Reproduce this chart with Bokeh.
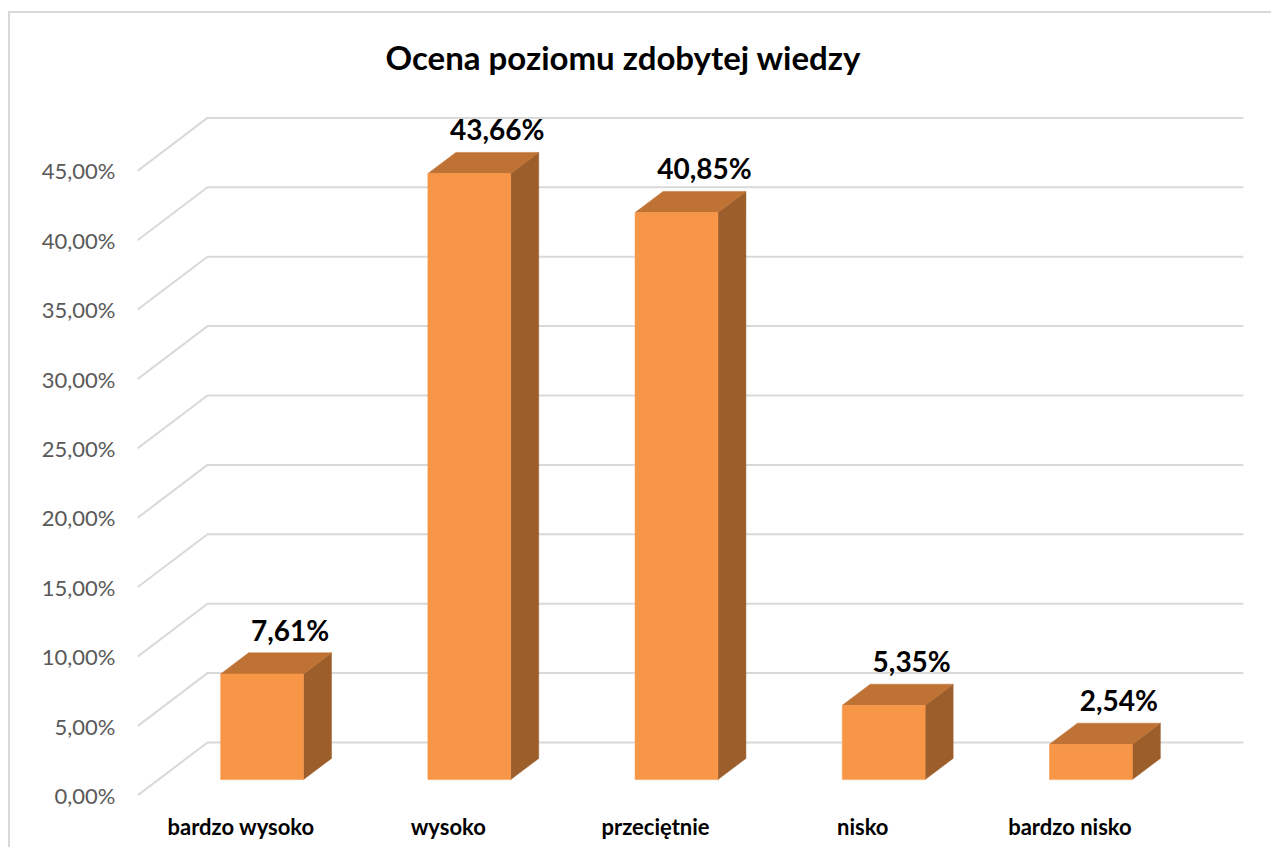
from bokeh.plotting import figure
from bokeh.models import Range1d, FixedTicker, ColumnDataSource, LinearAxis
from bokeh.core.properties import value
from bokeh.embed import file_html
from bokeh.resources import INLINE

# ---------------- data ----------------
categories = ["bardzo wysoko", "wysoko", "przeciętnie", "nisko", "bardzo nisko"]
percentages = [7.61, 43.66, 40.85, 5.35, 2.54]
value_labels = ["7,61%", "43,66%", "40,85%", "5,35%", "2,54%"]
y_ticks = [0, 5, 10, 15, 20, 25, 30, 35, 40, 45]
y_tick_labels = ["0,00%", "5,00%", "10,00%", "15,00%", "20,00%",
                 "25,00%", "30,00%", "35,00%", "40,00%", "45,00%"]
title_text = "Ocena poziomu zdobytej wiedzy"

# ---------------- layout / style constants ----------------
FONT = "Lato"
SLOT_PX = 207.3          # pixels per category slot
PCT_PX = 13.88           # pixels per percent
DEPTH_X_PX = 70          # oblique depth of the 3D box (x)
DEPTH_Y_PX = 53          # oblique depth of the 3D box (y)
DX = DEPTH_X_PX / SLOT_PX
DY = DEPTH_Y_PX / PCT_PX
BAR_W = 0.4
D0, D1 = 0.3, 0.7        # bar depth span (fraction of full depth)

FRONT_C = "#F79646"
TOP_C = "#BE7234"
SIDE_C = "#9C5E2B"
GRID_C = "#D9D9D9"

W, H = 1263, 836
ML, MR, MT, MB = 127, 30, 82, 54
frame_h = H - MT - MB
n = len(categories)

p = figure(width=W, height=H, output_backend="svg", toolbar_location=None,
           x_range=Range1d(0, n + DX), y_range=Range1d(0, frame_h / PCT_PX),
           min_border_left=ML, min_border_right=MR, min_border_top=MT,
           min_border_bottom=MB, x_axis_type=None, y_axis_type=None)
p.styles = {"border-left": "2px solid #D9D9D9", "border-top": "2px solid #D9D9D9",
            "margin-left": "8px", "margin-top": "11px"}
p.outline_line_color = None
p.background_fill_color = "white"
p.border_fill_color = "white"

# title
p.title.text = title_text
p.title.align = "left"
p.title.offset = 248
p.title.standoff = 37
p.title.text_font = FONT
p.title.text_font_size = "33px"
p.title.text_font_style = "bold"
p.title.text_color = "#000000"

# ---------------- gridlines (3D walls) ----------------
gx, gy = [], []
for t in y_ticks:
    gx.append([0, DX, n + DX])
    gy.append([t, t + DY, t + DY])
p.multi_line(xs=gx, ys=gy, line_color=GRID_C, line_width=2)

# ---------------- 3D bars ----------------
fx, fy, tx, ty, sx, sy = [], [], [], [], [], []
ddx, ddy = (D1 - D0) * DX, (D1 - D0) * DY
for i, v in enumerate(percentages):
    x0 = i + (1 - BAR_W) / 2 + D0 * DX
    x1 = x0 + BAR_W
    y0 = D0 * DY
    y1 = v + D0 * DY
    fx.append([x0, x1, x1, x0]); fy.append([y0, y0, y1, y1])
    tx.append([x0, x1, x1 + ddx, x0 + ddx]); ty.append([y1, y1, y1 + ddy, y1 + ddy])
    sx.append([x1, x1, x1 + ddx, x1 + ddx]); sy.append([y0, y1, y1 + ddy, y0 + ddy])
p.patches(xs=sx, ys=sy, fill_color=SIDE_C, line_color=SIDE_C, line_width=0.5)
p.patches(xs=tx, ys=ty, fill_color=TOP_C, line_color=TOP_C, line_width=0.5)
p.patches(xs=fx, ys=fy, fill_color=FRONT_C, line_color=FRONT_C, line_width=0.5)

# ---------------- value labels ----------------
lab_src = ColumnDataSource(dict(
    x=[i + 0.5 + D1 * DX for i in range(n)],
    y=[v + D1 * DY for v in percentages],
    t=value_labels))
p.text(x="x", y="y", text="t", source=lab_src, y_offset=-23,
       text_align="center", text_baseline="middle",
       text_font=value(FONT), text_font_style="bold",
       text_font_size="28px", text_color="#000000")

# ---------------- axes ----------------
yax = LinearAxis(ticker=FixedTicker(ticks=y_ticks),
                 major_label_overrides={t: l for t, l in zip(y_ticks, y_tick_labels)})
yax.axis_line_color = None
yax.major_tick_line_color = None
yax.minor_tick_line_color = None
yax.major_tick_out = 0
yax.major_label_standoff = 22
yax.major_label_text_font = FONT
yax.major_label_text_font_size = "22px"
yax.major_label_text_color = "#595959"
p.add_layout(yax, "left")

x_ticks = [i + 0.5 for i in range(n)]
xax = LinearAxis(ticker=FixedTicker(ticks=x_ticks),
                 major_label_overrides={t: c for t, c in zip(x_ticks, categories)})
xax.axis_line_color = None
xax.major_tick_line_color = None
xax.minor_tick_line_color = None
xax.major_tick_out = 0
xax.major_label_standoff = 17
xax.major_label_text_font = FONT
xax.major_label_text_font_size = "22px"
xax.major_label_text_font_style = "bold"
xax.major_label_text_color = "#000000"
p.add_layout(xax, "below")

p.grid.visible = False

open("out.html", "w").write(file_html(p, INLINE))
